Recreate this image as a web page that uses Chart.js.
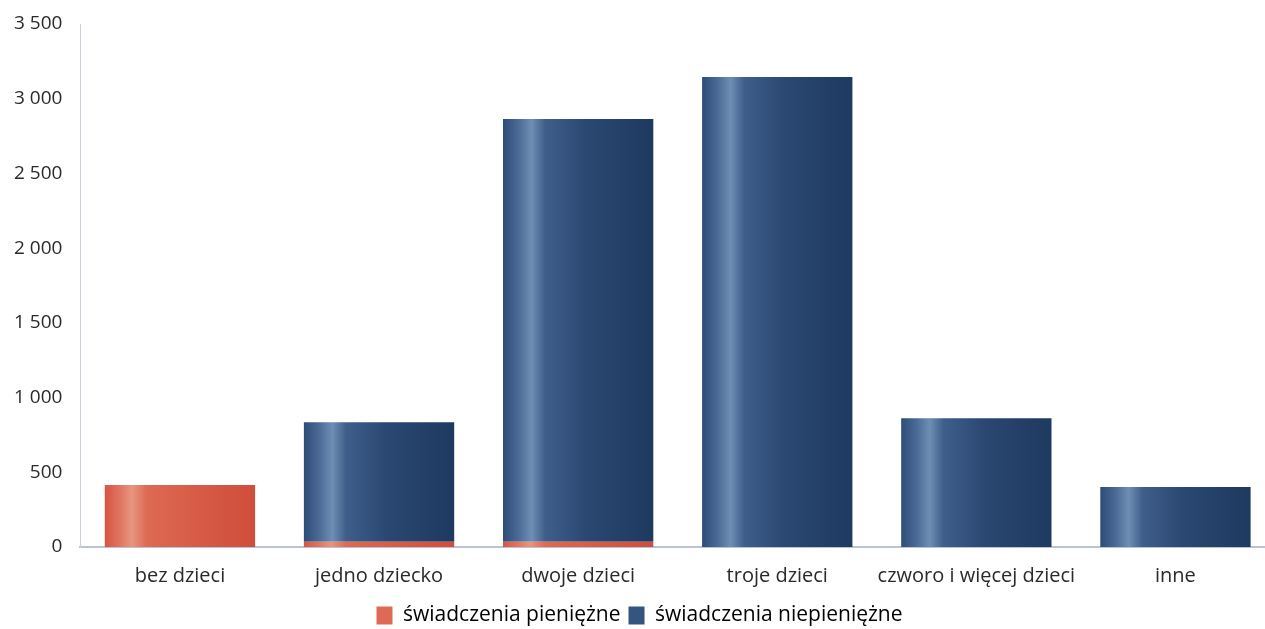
<!DOCTYPE html>
<html>
<head>
<meta charset="utf-8">
<script src="https://cdn.jsdelivr.net/npm/chart.js@4/dist/chart.umd.min.js"></script>
<style>
  html, body { margin: 0; padding: 0; background: #ffffff; overflow: hidden; }
  #wrap { width: 1275px; height: 629px; }
</style>
</head>
<body>
<div id="wrap"><canvas id="chart"></canvas></div>
<script>
// ===== DATA =====
const categories = ["bez dzieci", "jedno dziecko", "dwoje dzieci", "troje dzieci", "czworo i więcej dzieci", "inne"];
const cashBenefits = [415, 35, 35, 0, 0, 0];
const nonCashBenefits = [0, 800, 2830, 3145, 862, 402];
const seriesLabels = ["świadczenia pieniężne", "świadczenia niepieniężne"];
const yTicks = [0, 500, 1000, 1500, 2000, 2500, 3000, 3500];
const BAR_SHARE = 0.755;

// cylinder-like horizontal shading for each bar
function shade(stops, solid) {
  return (ctx) => {
    const chart = ctx.chart;
    const xs = chart.scales.x;
    if (!chart.chartArea || !xs || ctx.dataIndex === undefined) return solid;
    const center = xs.getPixelForValue(ctx.dataIndex);
    const w = (xs.width / categories.length) * BAR_SHARE;
    const left = center - w / 2;
    const g = chart.ctx.createLinearGradient(left, 0, left + w, 0);
    stops.forEach(([p, c]) => g.addColorStop(p, c));
    return g;
  };
}

const blueStops = [[0, "#2d4d78"], [0.1, "#4a6a95"], [0.19, "#6f8eb4"], [0.28, "#3f5e8a"], [0.55, "#2a4872"], [0.85, "#223e66"], [1, "#1f3a60"]];
const redStops = [[0, "#d65540"], [0.1, "#e07560"], [0.18, "#e89580"], [0.28, "#dd6a54"], [0.6, "#d75c46"], [1, "#cf4e3b"]];

const font = { family: "Open Sans", size: 20 };

new Chart(document.getElementById("chart"), {
  type: "bar",
  data: {
    labels: categories,
    datasets: [
      {
        label: seriesLabels[0],
        data: cashBenefits,
        backgroundColor: shade(redStops, "#d9573f"),
        borderWidth: 0,
        categoryPercentage: BAR_SHARE,
        barPercentage: 1,
      },
      {
        label: seriesLabels[1],
        data: nonCashBenefits,
        backgroundColor: shade(blueStops, "#2c4a74"),
        borderWidth: 0,
        categoryPercentage: BAR_SHARE,
        barPercentage: 1,
      },
    ],
  },
  options: {
    responsive: true,
    maintainAspectRatio: false,
    animation: false,
    layout: { padding: { top: 24, right: 0, left: 4, bottom: -7 } },
    plugins: {
      tooltip: { enabled: false },
      legend: {
        position: "bottom",
        labels: {
          boxWidth: 16,
          boxHeight: 18,
          padding: 8,
          color: "#2a2a2a",
          font: { family: "Open Sans", size: 21 },
          generateLabels: () => [
            { text: seriesLabels[0], fillStyle: "#de6a55", strokeStyle: "#de6a55", lineWidth: 0, datasetIndex: 0 },
            { text: seriesLabels[1], fillStyle: "#34557f", strokeStyle: "#34557f", lineWidth: 0, datasetIndex: 1 },
          ],
        },
      },
    },
    scales: {
      x: {
        stacked: true,
        grid: { display: false },
        border: { display: true, color: "#b9c2da", width: 2 },
        ticks: { color: "#2a2a2a", font, padding: 9, maxRotation: 0, autoSkip: false },
      },
      y: {
        stacked: true,
        min: 0,
        max: 3500,
        afterBuildTicks: (axis) => { axis.ticks = yTicks.map((v) => ({ value: v })); },
        grid: { display: false },
        border: { display: true, color: "#c9cfe0", width: 1 },
        ticks: {
          color: "#2a2a2a",
          font: { family: "Open Sans", size: 19 },
          padding: 10,
          callback: (v) => String(v).replace(/\B(?=(\d{3})+(?!\d))/g, " "),
        },
      },
    },
  },
});
</script>
</body>
</html>
